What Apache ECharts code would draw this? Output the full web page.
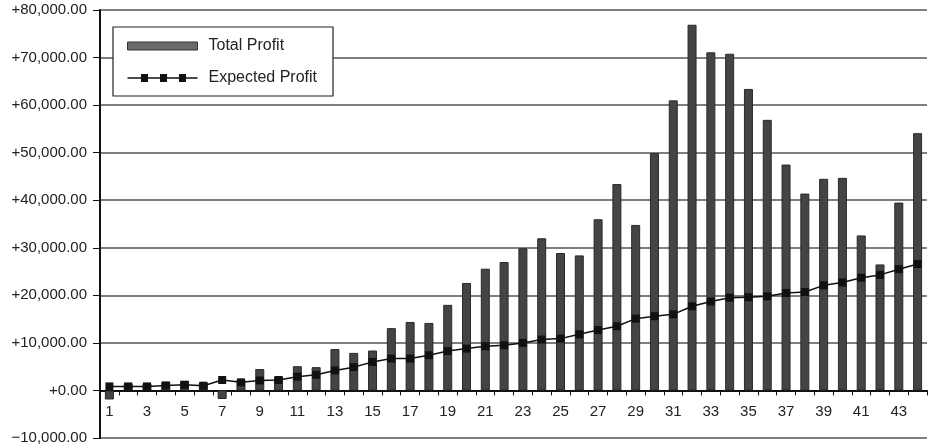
<!DOCTYPE html>
<html>
<head>
<meta charset="utf-8">
<script src="https://cdn.jsdelivr.net/npm/echarts@6/dist/echarts.min.js"></script>
<style>
  html, body { margin: 0; padding: 0; background: #fff; }
  #chart { width: 928px; height: 446px; }
</style>
</head>
<body>
<div id="chart"></div>
<script>
// Period numbers along the horizontal axis
const periods = ['1','2','3','4','5','6','7','8','9','10','11','12','13','14','15','16','17','18','19','20','21','22',
                 '23','24','25','26','27','28','29','30','31','32','33','34','35','36','37','38','39','40','41','42','43','44'];

// Realised profit per period
const totalProfit = [-1900, 1500, 1500, 1800, 2000, 1700, -1800, 2300, 4500, 2900, 5100, 4900, 8700, 7900, 8400,
                     13100, 14400, 14200, 18000, 22600, 25600, 27000, 29900, 32000, 28900, 28400, 36000, 43400,
                     34800, 49900, 61000, 76900, 71100, 70800, 63400, 56900, 47500, 41400, 44500, 44700, 32600,
                     26500, 39500, 54100];

// Expected profit per period
const expectedProfit = [850, 850, 850, 1050, 1200, 1000, 2200, 1700, 2100, 2200, 2900, 3300, 4200, 4900, 6000,
                        6700, 6700, 7400, 8300, 8800, 9300, 9500, 10000, 10700, 10900, 11800, 12700, 13500,
                        15100, 15600, 16000, 17700, 18700, 19500, 19600, 19800, 20500, 20700, 22100, 22700,
                        23700, 24300, 25500, 26600];

const seriesNames = ['Total Profit', 'Expected Profit'];

const Y_MIN = -10000;
const Y_MAX = 80000;

const FONT = '"Liberation Sans", Arial, sans-serif';

const GRID = { left: 100, right: 1, top: 10, bottom: 8 };
const CHART_H = 446;

function signedMoney(v) {
  const abs = Math.abs(v).toFixed(2).replace(/\B(?=(\d{3})+(?!\d))/g, ',');
  return (v < 0 ? '\u2212' : '+') + abs;
}

// Pull the category axis (line, ticks, labels) up from the grid bottom to the zero level
const plotH = CHART_H - GRID.top - GRID.bottom;
const zeroLift = plotH * (0 - Y_MIN) / (Y_MAX - Y_MIN);

// Legend glyph: thin line with three square markers
const lineIcon = 'path://M0,3.3h70v1.4h-70z M13.5,0h7v8h-7z M32.5,0h7v8h-7z M51.5,0h7v8h-7z';

const chart = echarts.init(document.getElementById('chart'), null, { renderer: 'canvas' });

chart.setOption({
  animation: false,
  backgroundColor: '#ffffff',
  textStyle: { fontFamily: FONT },
  grid: Object.assign({ containLabel: false, outerBoundsMode: 'none' }, GRID),
  legend: {
    orient: 'vertical',
    left: 113,
    top: 27,
    padding: [11, 16, 10, 14],
    itemWidth: 70,
    itemHeight: 8,
    itemGap: 16,
    backgroundColor: '#ffffff',
    borderColor: '#222',
    borderWidth: 1.2,
    textStyle: { fontSize: 16, color: '#222', fontFamily: FONT, padding: [0, 0, 0, 6] },
    data: [
      { name: seriesNames[0], icon: 'rect', itemStyle: { color: '#6a6a6a', borderColor: '#333', borderWidth: 1 } },
      { name: seriesNames[1], icon: lineIcon, itemStyle: { color: '#111', borderWidth: 0 } }
    ]
  },
  xAxis: {
    type: 'category',
    data: periods,
    boundaryGap: true,
    position: 'bottom',
    offset: -zeroLift,
    axisLine: { onZero: false, lineStyle: { color: '#111', width: 2 } },
    axisTick: { show: true, interval: 0, length: 5, lineStyle: { color: '#111', width: 1 } },
    axisLabel: { interval: 1, margin: 14, fontSize: 15, color: '#222', fontFamily: FONT },
    splitLine: { show: false }
  },
  yAxis: {
    type: 'value',
    min: Y_MIN,
    max: Y_MAX,
    interval: 10000,
    axisLine: { show: true, lineStyle: { color: '#111', width: 2 } },
    axisTick: { show: true, length: 7, lineStyle: { color: '#111', width: 1 } },
    axisLabel: { margin: 13, fontSize: 15, color: '#222', fontFamily: FONT, formatter: signedMoney },
    splitLine: { show: true, lineStyle: { color: '#555', width: 1.5 } }
  },
  series: [
    {
      name: seriesNames[0],
      type: 'bar',
      data: totalProfit,
      barWidth: 9,
      itemStyle: { color: '#444', borderColor: '#2a2a2a', borderWidth: 1 }
    },
    {
      name: seriesNames[1],
      type: 'line',
      data: expectedProfit,
      symbol: 'rect',
      symbolSize: 8,
      showAllSymbol: true,
      itemStyle: { color: '#111' },
      lineStyle: { color: '#111', width: 1.5 }
    }
  ]
});
</script>
</body>
</html>
